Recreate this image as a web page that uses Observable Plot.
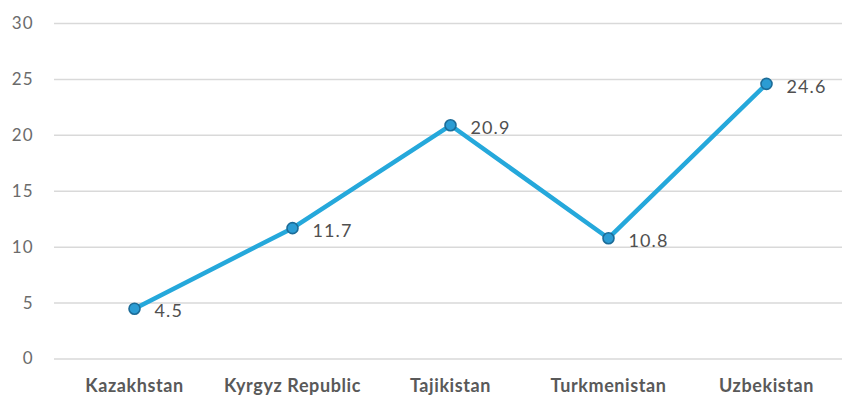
<!DOCTYPE html>
<html>
<head>
<meta charset="utf-8">
<script src="https://cdn.jsdelivr.net/npm/d3@7"></script>
<script src="https://cdn.jsdelivr.net/npm/@observablehq/plot@0.6"></script>
<style>
  html, body { margin: 0; padding: 0; background: #fff; }
  #chart svg { display: block; }
</style>
</head>
<body>
<div id="chart"></div>
<script>
const countries = ["Kazakhstan", "Kyrgyz Republic", "Tajikistan", "Turkmenistan", "Uzbekistan"];
const values = [4.5, 11.7, 20.9, 10.8, 24.6];
const yTicks = [0, 5, 10, 15, 20, 25, 30];

const data = countries.map((c, i) => ({country: c, value: values[i]}));

const chart = Plot.plot({
  width: 842,
  height: 396,
  marginLeft: 54,
  marginRight: 0,
  marginTop: 23,
  marginBottom: 37.5,
  style: {fontFamily: "Lato, 'Open Sans', sans-serif", background: "#fff"},
  x: {type: "point", domain: countries, range: [133.5, 767], padding: 0, label: null},
  y: {domain: [0, 30], label: null},
  marks: [
    Plot.ruleY(yTicks, {stroke: "#d9d9d9", strokeWidth: 1.5}),
    Plot.axisY({ticks: yTicks, tickSize: 0, tickPadding: 0, dx: -21, fontSize: 17, fill: "#6b6b6b", label: null}),
    Plot.axisX({tickSize: 0, tickPadding: 0, dy: 20, fontSize: 18, fontWeight: "bold", fill: "#595959", label: null}),
    Plot.line(data, {x: "country", y: "value", stroke: "#25A8DB", strokeWidth: 4.5, strokeLinejoin: "round", strokeLinecap: "round"}),
    Plot.dot(data, {x: "country", y: "value", r: 5.5, fill: "#2B9CD3", stroke: "#1C6C98", strokeWidth: 1.6}),
    Plot.text(data, {x: "country", y: "value", text: d => d.value.toFixed(1), textAnchor: "start", dx: 20, dy: 3, fontSize: 18, fill: "#505050"})
  ]
});
d3.select(chart).selectAll('g[aria-label="x-axis tick label"] text').attr("letter-spacing", "0.6");
d3.select(chart).selectAll('g[aria-label="y-axis tick label"] text').attr("letter-spacing", "1");
d3.select(chart).selectAll('g[aria-label="text"] text').attr("letter-spacing", "1.1");
document.getElementById("chart").appendChild(chart);
</script>
</body>
</html>
